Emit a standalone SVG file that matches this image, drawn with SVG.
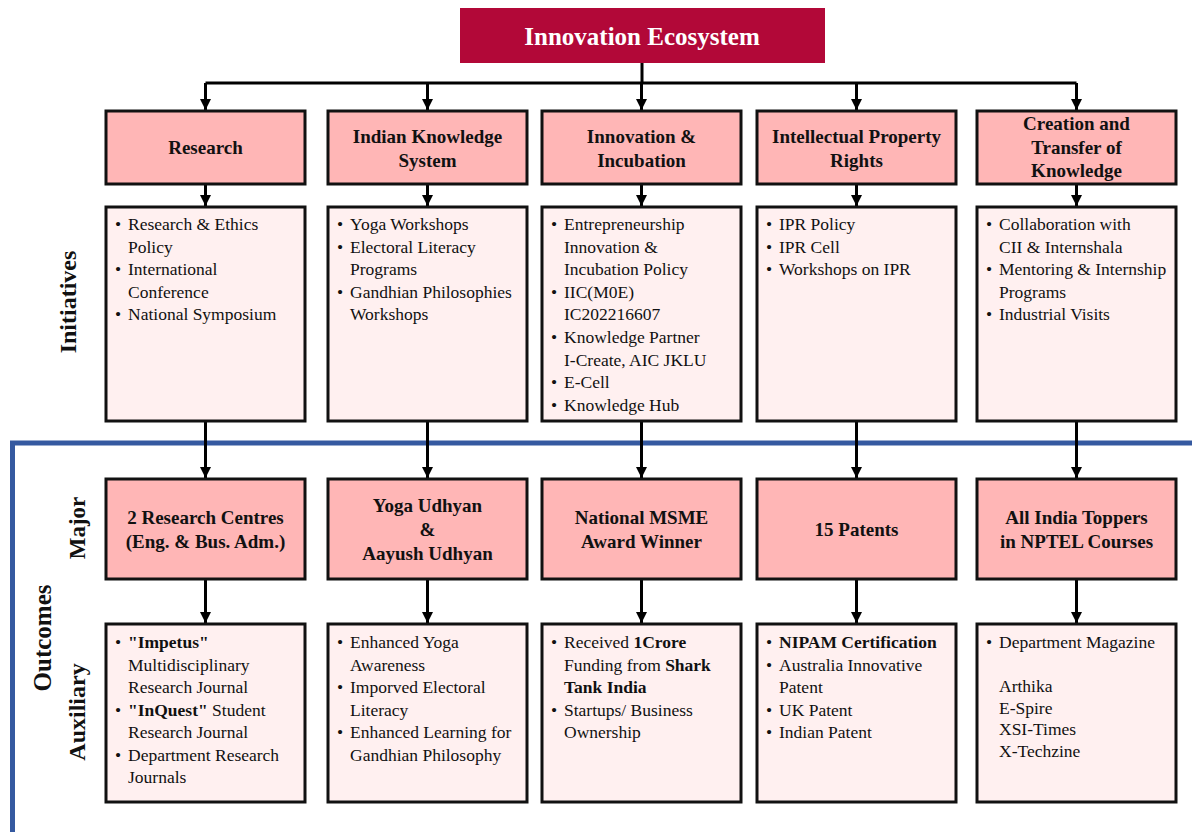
<svg xmlns="http://www.w3.org/2000/svg" width="1192" height="832" viewBox="0 0 1192 832">
<style>
.hdr{fill:#FFB6B6;stroke:#111;stroke-width:3}
.lst{fill:#FFF0F0;stroke:#111;stroke-width:3}
.ht{font-family:"Liberation Serif","Times New Roman",serif;font-weight:bold;font-size:19px;fill:#111;text-anchor:middle}
.bt{font-family:"Liberation Serif","Times New Roman",serif;font-size:17.5px;fill:#111}
.b{font-weight:bold}
.lab{font-family:"Liberation Serif","Times New Roman",serif;font-weight:bold;font-size:24px;fill:#111;text-anchor:middle}
.con{fill:none;stroke:#000;stroke-width:3}
.arr{fill:none;stroke:#000;stroke-width:3;marker-end:url(#ah)}
</style>
<defs>
<marker id="ah" markerUnits="userSpaceOnUse" markerWidth="12" markerHeight="12" refX="11" refY="6" orient="auto">
<path d="M0,0.5 L11,6 L0,11.5 z" fill="#000"/>
</marker>
</defs>
<rect width="1192" height="832" fill="#fff"/>

<!-- frame -->
<path d="M12.5,832 V443 H1192" fill="none" stroke="#3559A0" stroke-width="5"/>

<!-- side labels -->
<text class="lab" transform="translate(76,302) rotate(-90)">Initiatives</text>
<text class="lab" transform="translate(51,638) rotate(-90)" style="font-size:25px">Outcomes</text>
<text class="lab" transform="translate(85,528) rotate(-90)" style="font-size:23px">Major</text>
<text class="lab" transform="translate(85,712) rotate(-90)">Auxiliary</text>

<!-- connectors -->
<g id="connectors">
<path class="con" d="M642,63 V83 M205.5,83 H1076.5"/>
<path class="arr" d="M205.5,83 V110"/>
<path class="arr" d="M427.5,83 V110"/>
<path class="arr" d="M641.5,83 V110"/>
<path class="arr" d="M856.5,83 V110"/>
<path class="arr" d="M1076.5,83 V110"/>
<path class="arr" d="M205.5,184 V206"/>
<path class="arr" d="M427.5,184 V206"/>
<path class="arr" d="M641.5,184 V206"/>
<path class="arr" d="M856.5,184 V206"/>
<path class="arr" d="M1076.5,184 V206"/>
<path class="arr" d="M205.5,421 V478"/>
<path class="arr" d="M427.5,421 V478"/>
<path class="arr" d="M641.5,421 V478"/>
<path class="arr" d="M856.5,421 V478"/>
<path class="arr" d="M1076.5,421 V478"/>
<path class="arr" d="M205.5,579 V623"/>
<path class="arr" d="M427.5,579 V623"/>
<path class="arr" d="M641.5,579 V623"/>
<path class="arr" d="M856.5,579 V623"/>
<path class="arr" d="M1076.5,579 V623"/>
</g>

<!-- title -->
<g id="title">
<rect x="460" y="8" width="365" height="55" fill="#B20838"/>
<text x="642" y="44.5" class="ht" style="font-size:25px;fill:#fff">Innovation Ecosystem</text>
</g>

<!-- top headers -->
<g id="h-research"><rect class="hdr" x="106" y="111" width="199" height="73"/>
<text class="ht" x="205.5" y="153.5">Research</text></g>
<g id="h-iks"><rect class="hdr" x="328" y="111" width="199" height="73"/>
<text class="ht" x="427.5" y="142.5">Indian Knowledge</text><text class="ht" x="427.5" y="166.5">System</text></g>
<g id="h-innov"><rect class="hdr" x="542" y="111" width="199" height="73"/>
<text class="ht" x="641.5" y="142.5">Innovation &amp;</text><text class="ht" x="641.5" y="166.5">Incubation</text></g>
<g id="h-ipr"><rect class="hdr" x="757" y="111" width="199" height="73"/>
<text class="ht" x="856.5" y="142.5">Intellectual Property</text><text class="ht" x="856.5" y="166.5">Rights</text></g>
<g id="h-ctk"><rect class="hdr" x="977" y="111" width="199" height="73"/>
<text class="ht" x="1076.5" y="130">Creation and</text><text class="ht" x="1076.5" y="153.5">Transfer of</text><text class="ht" x="1076.5" y="177">Knowledge</text></g>

<!-- initiatives -->
<g id="i-research"><rect class="lst" x="106" y="207" width="199" height="214"/>
<text class="bt"><tspan x="115" y="230">•</tspan><tspan x="128" y="230">Research &amp; Ethics</tspan><tspan x="128" y="252.6">Policy</tspan><tspan x="115" y="275.2">•</tspan><tspan x="128" y="275.2">International</tspan><tspan x="128" y="297.8">Conference</tspan><tspan x="115" y="320.4">•</tspan><tspan x="128" y="320.4">National Symposium</tspan></text></g>
<g id="i-iks"><rect class="lst" x="328" y="207" width="199" height="214"/>
<text class="bt"><tspan x="337" y="230">•</tspan><tspan x="350" y="230">Yoga Workshops</tspan><tspan x="337" y="252.6">•</tspan><tspan x="350" y="252.6">Electoral Literacy</tspan><tspan x="350" y="275.2">Programs</tspan><tspan x="337" y="297.8">•</tspan><tspan x="350" y="297.8">Gandhian Philosophies</tspan><tspan x="350" y="320.4">Workshops</tspan></text></g>
<g id="i-innov"><rect class="lst" x="542" y="207" width="199" height="214"/>
<text class="bt"><tspan x="551" y="230">•</tspan><tspan x="564" y="230">Entrepreneurship</tspan><tspan x="564" y="252.6">Innovation &amp;</tspan><tspan x="564" y="275.2">Incubation Policy</tspan><tspan x="551" y="297.8">•</tspan><tspan x="564" y="297.8">IIC(M0E)</tspan><tspan x="564" y="320.4">IC202216607</tspan><tspan x="551" y="343">•</tspan><tspan x="564" y="343">Knowledge Partner</tspan><tspan x="564" y="365.6">I-Create, AIC JKLU</tspan><tspan x="551" y="388.2">•</tspan><tspan x="564" y="388.2">E-Cell</tspan><tspan x="551" y="410.8">•</tspan><tspan x="564" y="410.8">Knowledge Hub</tspan></text></g>
<g id="i-ipr"><rect class="lst" x="757" y="207" width="199" height="214"/>
<text class="bt"><tspan x="766" y="230">•</tspan><tspan x="779" y="230">IPR Policy</tspan><tspan x="766" y="252.6">•</tspan><tspan x="779" y="252.6">IPR Cell</tspan><tspan x="766" y="275.2">•</tspan><tspan x="779" y="275.2">Workshops on IPR</tspan></text></g>
<g id="i-ctk"><rect class="lst" x="977" y="207" width="199" height="214"/>
<text class="bt"><tspan x="986" y="230">•</tspan><tspan x="999" y="230">Collaboration with</tspan><tspan x="999" y="252.6">CII &amp; Internshala</tspan><tspan x="986" y="275.2">•</tspan><tspan x="999" y="275.2">Mentoring &amp; Internship</tspan><tspan x="999" y="297.8">Programs</tspan><tspan x="986" y="320.4">•</tspan><tspan x="999" y="320.4">Industrial Visits</tspan></text></g>

<!-- major outcomes -->
<g id="m-research"><rect class="hdr" x="106" y="479" width="199" height="100"/>
<text class="ht" x="205.5" y="523.5">2 Research Centres</text><text class="ht" x="205.5" y="547.5">(Eng. &amp; Bus. Adm.)</text></g>
<g id="m-iks"><rect class="hdr" x="328" y="479" width="199" height="100"/>
<text class="ht" x="427.5" y="511.5">Yoga Udhyan</text><text class="ht" x="427.5" y="535.5">&amp;</text><text class="ht" x="427.5" y="559.5">Aayush Udhyan</text></g>
<g id="m-innov"><rect class="hdr" x="542" y="479" width="199" height="100"/>
<text class="ht" x="641.5" y="523.5">National MSME</text><text class="ht" x="641.5" y="547.5">Award Winner</text></g>
<g id="m-ipr"><rect class="hdr" x="757" y="479" width="199" height="100"/>
<text class="ht" x="856.5" y="535.5">15 Patents</text></g>
<g id="m-ctk"><rect class="hdr" x="977" y="479" width="199" height="100"/>
<text class="ht" x="1076.5" y="523.5">All India Toppers</text><text class="ht" x="1076.5" y="547.5">in NPTEL Courses</text></g>

<!-- auxiliary outcomes -->
<g id="a-research"><rect class="lst" x="106" y="624" width="199" height="178"/>
<text class="bt"><tspan x="115" y="648">•</tspan><tspan x="128" y="648" class="b">"Impetus"</tspan><tspan x="128" y="670.5">Multidisciplinary</tspan><tspan x="128" y="693">Research Journal</tspan><tspan x="115" y="715.5">•</tspan><tspan x="128" y="715.5" class="b">"InQuest"</tspan><tspan> Student</tspan><tspan x="128" y="738">Research Journal</tspan><tspan x="115" y="760.5">•</tspan><tspan x="128" y="760.5">Department Research</tspan><tspan x="128" y="783">Journals</tspan></text></g>
<g id="a-iks"><rect class="lst" x="328" y="624" width="199" height="178"/>
<text class="bt"><tspan x="337" y="648">•</tspan><tspan x="350" y="648">Enhanced Yoga</tspan><tspan x="350" y="670.5">Awareness</tspan><tspan x="337" y="693">•</tspan><tspan x="350" y="693">Imporved Electoral</tspan><tspan x="350" y="715.5">Literacy</tspan><tspan x="337" y="738">•</tspan><tspan x="350" y="738">Enhanced Learning for</tspan><tspan x="350" y="760.5">Gandhian Philosophy</tspan></text></g>
<g id="a-innov"><rect class="lst" x="542" y="624" width="199" height="178"/>
<text class="bt"><tspan x="551" y="648">•</tspan><tspan x="564" y="648">Received </tspan><tspan class="b">1Crore</tspan><tspan x="564" y="670.5">Funding from </tspan><tspan class="b">Shark</tspan><tspan x="564" y="693" class="b">Tank India</tspan><tspan x="551" y="715.5">•</tspan><tspan x="564" y="715.5">Startups/ Business</tspan><tspan x="564" y="738">Ownership</tspan></text></g>
<g id="a-ipr"><rect class="lst" x="757" y="624" width="199" height="178"/>
<text class="bt"><tspan x="766" y="648">•</tspan><tspan x="779" y="648" class="b">NIPAM Certification</tspan><tspan x="766" y="670.5">•</tspan><tspan x="779" y="670.5">Australia Innovative</tspan><tspan x="779" y="693">Patent</tspan><tspan x="766" y="715.5">•</tspan><tspan x="779" y="715.5">UK Patent</tspan><tspan x="766" y="738">•</tspan><tspan x="779" y="738">Indian Patent</tspan></text></g>
<g id="a-ctk"><rect class="lst" x="977" y="624" width="199" height="178"/>
<text class="bt"><tspan x="986" y="648">•</tspan><tspan x="999" y="648">Department Magazine</tspan><tspan x="999" y="692">Arthika</tspan><tspan x="999" y="713.5">E-Spire</tspan><tspan x="999" y="735">XSI-Times</tspan><tspan x="999" y="756.5">X-Techzine</tspan></text></g>
</svg>
